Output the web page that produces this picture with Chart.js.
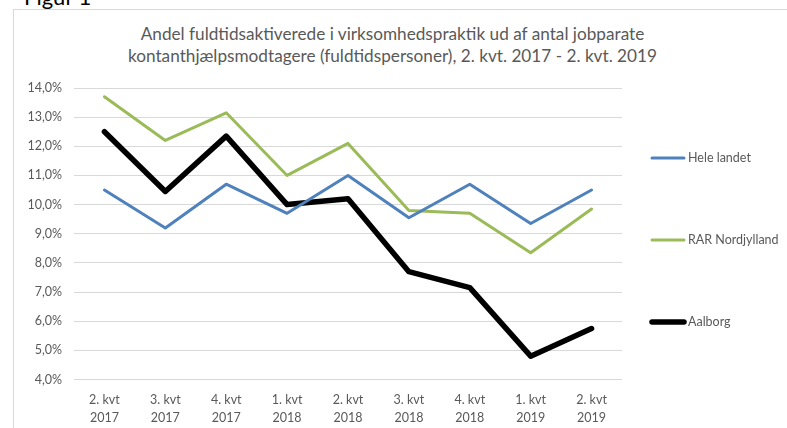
<!DOCTYPE html>
<html>
<head>
<meta charset="utf-8">
<script src="https://cdn.jsdelivr.net/npm/chart.js@4"></script>
<style>
  html, body { margin: 0; padding: 0; background: #fff; }
  body { width: 787px; height: 428px; position: relative; overflow: hidden; font-family: Lato, sans-serif; }
  #fig { position: absolute; left: 24px; top: -17px; font-size: 22px; color: #000; }
  #frame { position: absolute; left: 13px; top: 9px; width: 800px; height: 450px; border: 1px solid #d9d9d9; box-sizing: border-box; }
  #title { position: absolute; left: 0; width: 785px; top: 23px; text-align: center; font-size: 17.2px; line-height: 22px; color: #595959; }
  #wrap { position: absolute; left: 0; top: 0; width: 787px; height: 428px; }
</style>
</head>
<body>
<div id="fig">Figur 1</div>
<div id="frame"></div>
<div id="title">Andel fuldtidsaktiverede i virksomhedspraktik ud af antal jobparate<br>kontanthjælpsmodtagere (fuldtidspersoner), 2. kvt. 2017 - 2. kvt. 2019</div>
<div id="wrap"><canvas id="chart"></canvas></div>
<script>
const QUARTERS = [
  ['2. kvt', '2017'], ['3. kvt', '2017'], ['4. kvt', '2017'],
  ['1. kvt', '2018'], ['2. kvt', '2018'], ['3. kvt', '2018'],
  ['4. kvt', '2018'], ['1. kvt', '2019'], ['2. kvt', '2019'],
]

// percent values
const HELE_LANDET = [10.5, 9.2, 10.7, 9.7, 11.0, 9.55, 10.7, 9.35, 10.5]
const RAR_NORDJYLLAND = [13.7, 12.2, 13.15, 11.0, 12.1, 9.8, 9.7, 8.35, 9.85]
const AALBORG = [12.5, 10.45, 12.35, 10.0, 10.2, 7.7, 7.15, 4.8, 5.75]

const SERIES_NAMES = ['Hele landet', 'RAR Nordjylland', 'Aalborg']

const GREY = '#595959';

// legend drawn by hand so the items sit where the original has them
const sideLegend = {
  id: 'sideLegend',
  afterDraw(chart) {
    const ctx = chart.ctx;
    const ys = [158, 240, 322];
    ctx.save();
    chart.data.datasets.forEach((ds, i) => {
      ctx.strokeStyle = ds.borderColor;
      ctx.lineWidth = ds.borderWidth;
      ctx.lineCap = 'round';
      ctx.beginPath();
      ctx.moveTo(652, ys[i]);
      ctx.lineTo(684, ys[i]);
      ctx.stroke();
      ctx.fillStyle = GREY;
      ctx.font = '12.5px Lato';
      ctx.textBaseline = 'middle';
      ctx.fillText(ds.label, 688, ys[i]);
    });
    ctx.restore();
  }
};

(() => {
  const ctx = document.getElementById('chart').getContext('2d');
  new Chart(ctx, {
    type: 'line',
    data: {
      labels: QUARTERS,
      datasets: [
        { label: SERIES_NAMES[0], data: HELE_LANDET, borderColor: '#4f81bd', borderWidth: 3 },
        { label: SERIES_NAMES[1], data: RAR_NORDJYLLAND, borderColor: '#9bbb59', borderWidth: 3 },
        { label: SERIES_NAMES[2], data: AALBORG, borderColor: '#000000', borderWidth: 5.5 },
      ].map(d => ({ ...d, pointRadius: 0, tension: 0, fill: false, borderJoinStyle: 'round', borderCapStyle: 'round' }))
    },
    options: {
      responsive: true,
      maintainAspectRatio: false,
      animation: false,
      layout: { padding: { left: 0, right: 165, top: 88, bottom: 0 } },
      plugins: {
        legend: { display: false },
        title: { display: false },
        tooltip: { enabled: false },
      },
      scales: {
        x: {
          offset: true,
          grid: { display: false },
          border: { display: false },
          ticks: { color: GREY, font: { family: 'Lato', size: 12.5, lineHeight: 1.45 }, padding: 3, maxRotation: 0 },
          afterFit: (s) => { s.height = 48.5; },
        },
        y: {
          min: 4,
          max: 14,
          grid: { color: '#d9d9d9', lineWidth: 1, drawTicks: false },
          border: { display: false },
          ticks: {
            stepSize: 1,
            color: GREY,
            font: { family: 'Lato', size: 12.5 },
            padding: 12,
            callback: (v) => v.toFixed(1).replace('.', ',') + '%',
          },
          afterFit: (s) => { s.width = 74; },
        },
      },
    },
    plugins: [sideLegend],
  });
})();
</script>
</body>
</html>
